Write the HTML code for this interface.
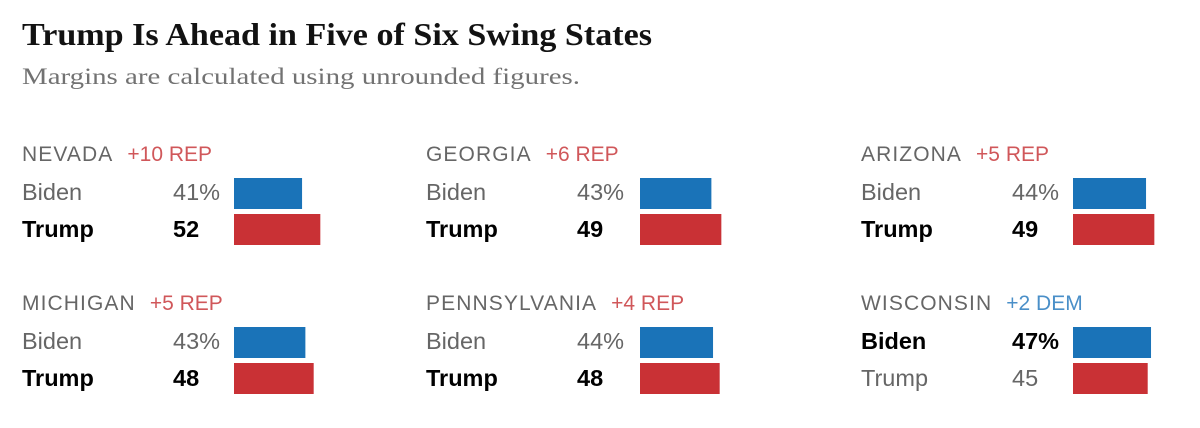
<!DOCTYPE html>
<html><head><meta charset="utf-8"><style>
body{margin:0;background:#fff;width:1200px;height:428px;overflow:hidden}
svg{display:block}
</style></head><body>
<svg id="chart" width="1200" height="428">
<text x="22" y="45" font-family="Liberation Serif, serif" font-weight="bold" font-size="32" fill="#121212" textLength="630" lengthAdjust="spacingAndGlyphs">Trump Is Ahead in Five of Six Swing States</text>
<text x="22" y="84" font-family="Liberation Serif, serif" font-size="23" fill="#727272" textLength="558" lengthAdjust="spacingAndGlyphs">Margins are calculated using unrounded figures.</text>
<g id="panels"></g>
</svg>
<script>
const states = ["NEVADA","GEORGIA","ARIZONA","MICHIGAN","PENNSYLVANIA","WISCONSIN"];
const biden = [41,43,44,43,44,47];
const trump = [52,49,49,48,48,45];
const margins = ["+10 REP","+6 REP","+5 REP","+5 REP","+4 REP","+2 DEM"];
const colX=[22,426,861], barOff=[212,214,212], rowY=[161,310];
const scale=1.66, NS="http://www.w3.org/2000/svg";
const g=document.getElementById('panels');
function t(x,y,str,size,fill,weight,ls){const e=document.createElementNS(NS,'text');e.setAttribute('x',x);e.setAttribute('y',y);e.setAttribute('font-family','Liberation Sans, sans-serif');e.setAttribute('font-size',size);e.setAttribute('fill',fill);if(weight)e.setAttribute('font-weight',weight);if(ls)e.setAttribute('letter-spacing',ls);e.textContent=str;g.appendChild(e);return e;}
function r(x,y,w,h,fill){const e=document.createElementNS(NS,'rect');e.setAttribute('x',x);e.setAttribute('y',y);e.setAttribute('width',w);e.setAttribute('height',h);e.setAttribute('fill',fill);g.appendChild(e);return e;}
states.forEach((s,i)=>{
  const x=colX[i%3], y=rowY[Math.floor(i/3)], bo=barOff[i%3];
  const bw=biden[i]>trump[i];
  let h=t(x,y,s,21,'#666',null,'1.1');
  
  
  const w=h.getBBox().width;
  let m=t(x+w+14,y,margins[i],21,bw?'#4a8fc8':'#d0575a');
  
  
  let a=t(x,y+39,'Biden',23.5,bw?'#000':'#666',bw?'bold':null);
  
  
  let an=t(x+151,y+39,biden[i]+'%',23.5,bw?'#000':'#666',bw?'bold':null);
  
  
  let b=r(x+bo,y+17,biden[i]*scale,31,'#1a73b8');
  
  
  let c=t(x,y+76,'Trump',23.5,bw?'#666':'#000',bw?null:'bold');
  
  
  let cn=t(x+151,y+76,String(trump[i]),23.5,bw?'#666':'#000',bw?null:'bold');
  
  
  let d=r(x+bo,y+53,trump[i]*scale,31,'#c93135');
  
  
});
</script>
</body></html>
